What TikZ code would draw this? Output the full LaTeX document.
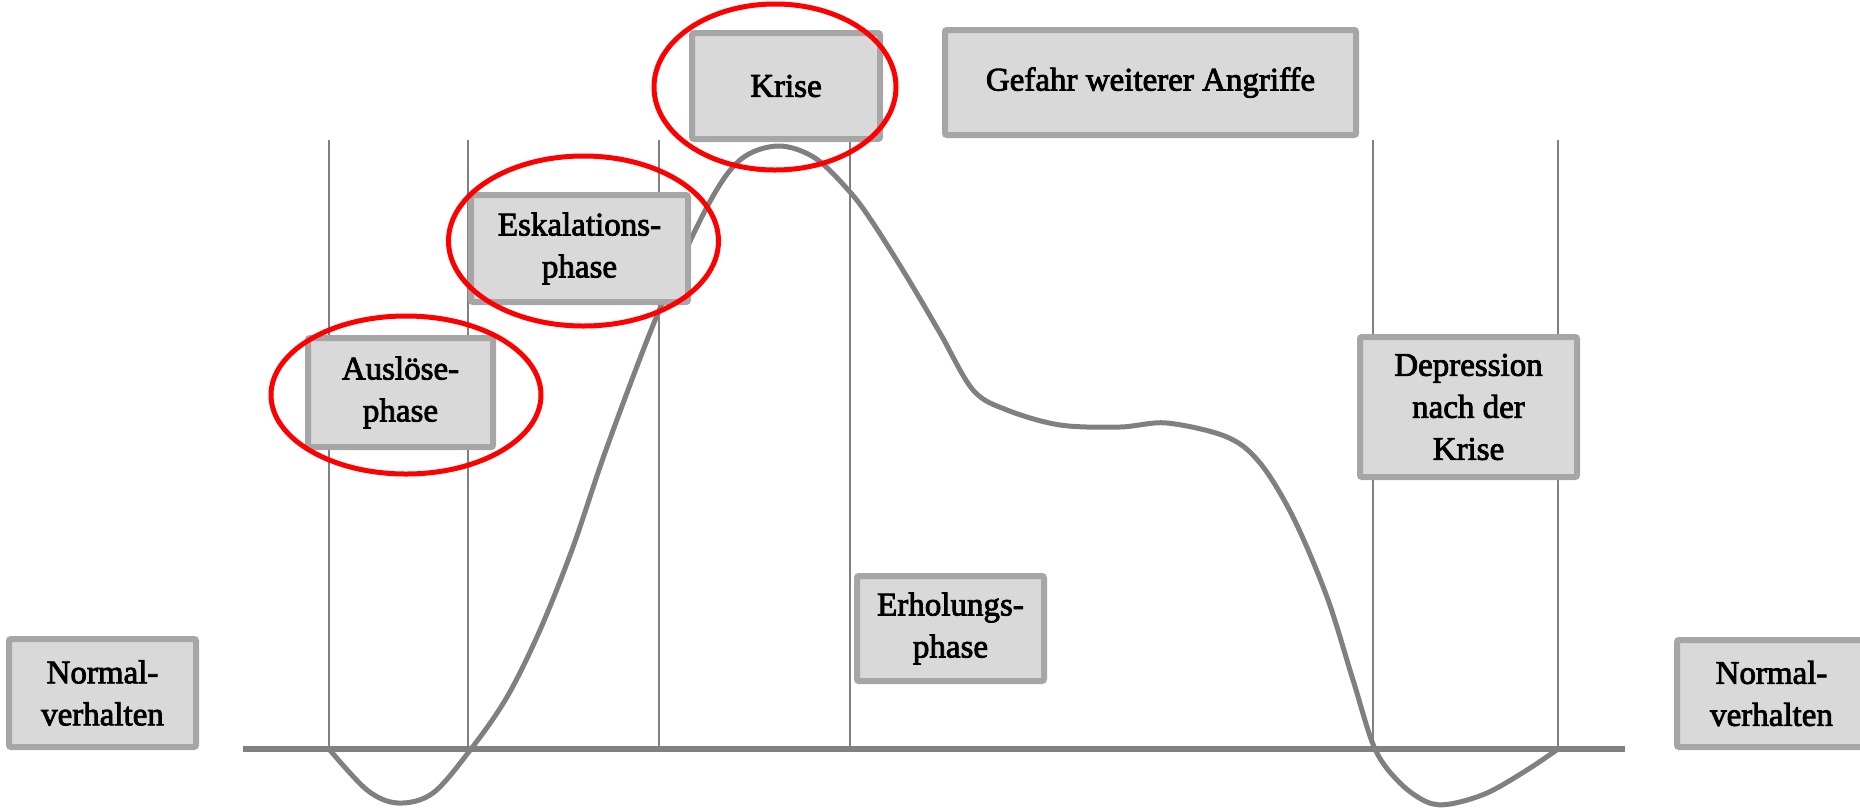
\documentclass[tikz,border=0pt]{standalone}
\usepackage{fontspec}
\setmainfont{Liberation Serif}
\newfontfamily\boxfont{Liberation Serif}[FakeBold=2.5]
\definecolor{boxfill}{HTML}{D9D9D9}
\definecolor{boxline}{HTML}{A6A6A6}
\definecolor{curvegray}{HTML}{808080}
\tikzset{
  phasebox/.style={draw=boxline, fill=boxfill, line width=6pt, rounded corners=2pt,
    align=center, inner sep=0pt, font=\fontsize{33}{42}\boxfont},
  gridline/.style={draw=curvegray, line width=2pt},
  baseline/.style={draw=curvegray, line width=6.5pt},
  crisiscurve/.style={draw=curvegray, line width=5pt, line join=round},
  marker/.style={draw=red, line width=5pt},
}
\begin{document}
\begin{tikzpicture}[x=1pt,y=-1pt]
\useasboundingbox (0,0) rectangle (1860,807);
% vertical grid lines
\foreach \n/\x in {v1/329,v2/468,v3/659,v4/850,v5/1373,v6/1558}{
  \coordinate (\n top) at (\x,140);
  \coordinate (\n bot) at (\x,749);
  \draw[gridline] (\n top) -- (\n bot);
}
% base line
\coordinate (bl) at (243,749);
\coordinate (br) at (1625,749);
\draw[baseline] (bl) -- (br);
% curve
\draw[crisiscurve] plot[smooth, tension=0.55] coordinates {
 (329,749) (367,790) (398,803) (433,793) (471,749) (507,697) (540,630) (573,547)
 (607,447) (658,313) (707,207) (740,160) (778,146) (815,158) (850,192) (873,223)
 (907,277) (940,333) (973,390) (1007,410) (1060,425) (1120,427) (1167,423)
 (1227,437) (1260,463) (1293,517) (1327,597) (1353,680) (1375,749) (1400,783)
 (1427,802) (1450,804) (1487,793) (1527,770) (1558,749)};
% boxes
\node[phasebox, minimum width=187pt, minimum height=108pt] (normL) at (102.5,693) {Normal-\\verhalten};
\node[phasebox, minimum width=189pt, minimum height=107pt] (normR) at (1771.5,693.5) {Normal-\\verhalten};
\node[phasebox, minimum width=185pt, minimum height=109pt] (ausl) at (400.5,392.5) {Auslöse-\\phase};
\node[phasebox, minimum width=217pt, minimum height=107pt] (eskal) at (579.5,248.5) {Eskalations-\\phase};
\node[phasebox, minimum width=188pt, minimum height=106pt] (krise) at (786,86) {Krise};
\node[phasebox, minimum width=411pt, minimum height=105pt] (gefahr) at (1150.5,82.5) {Gefahr weiterer Angriffe};
\node[phasebox, minimum width=187pt, minimum height=105pt] (erhol) at (950.5,628.5) {Erholungs-\\phase};
\node[phasebox, minimum width=217pt, minimum height=140pt] (depr) at (1468.5,407) {Depression\\nach der\\Krise};
% red markers
\draw[marker] (406,395) ellipse [x radius=135, y radius=79];
\draw[marker] (583.5,241) ellipse [x radius=135, y radius=85];
\draw[marker] (775,87) ellipse [x radius=121, y radius=83];
\end{tikzpicture}
\end{document}
